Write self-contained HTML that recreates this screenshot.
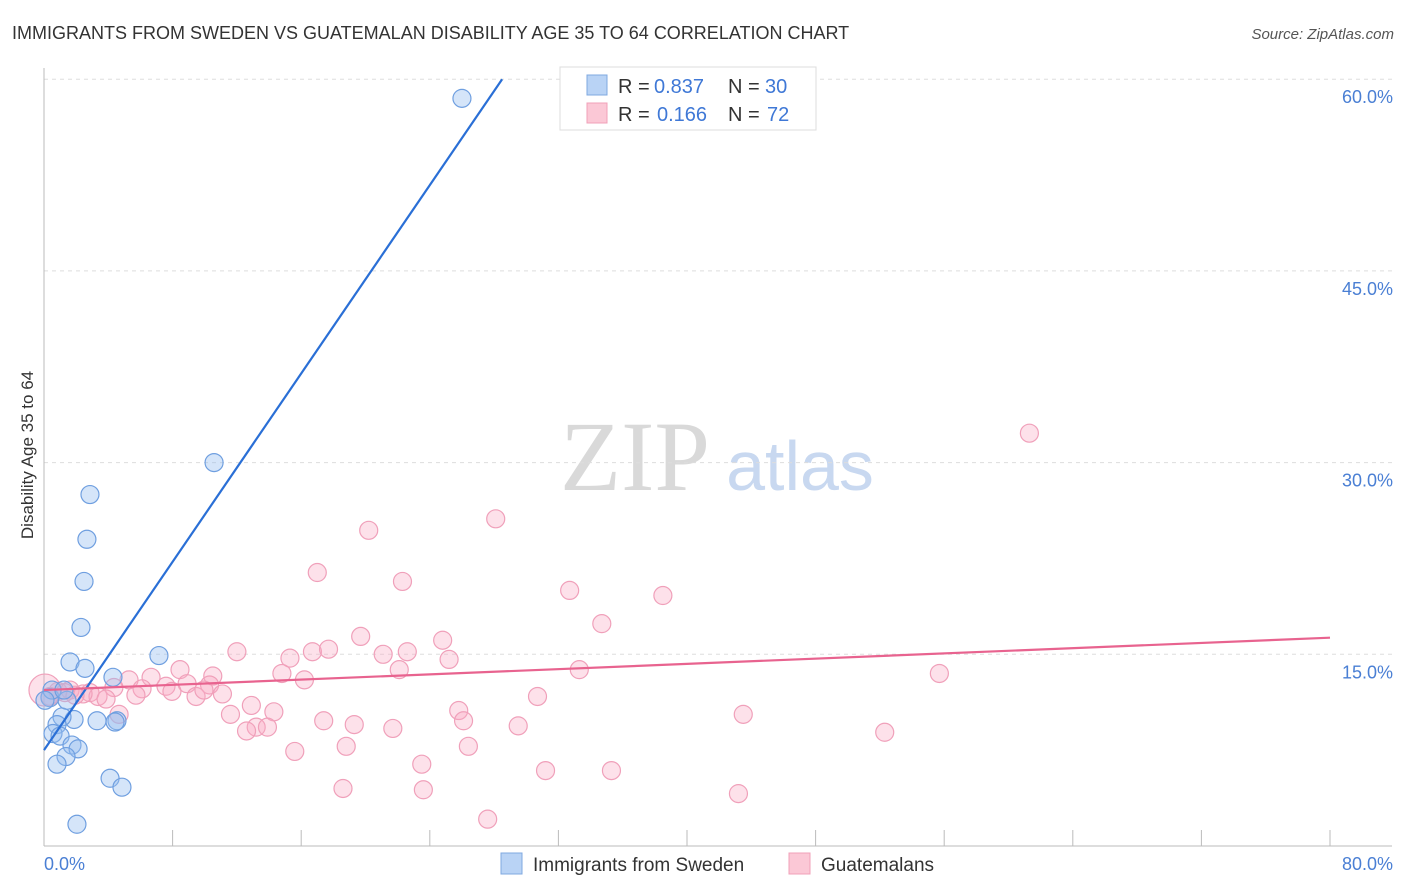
<!DOCTYPE html>
<html><head><meta charset="utf-8"><style>
body{margin:0;background:#fff;font-family:"Liberation Sans",sans-serif;}
svg{display:block}
</style></head><body>
<svg id="chart" width="1406" height="892">
<text x="12" y="39" font-size="18" fill="#333">IMMIGRANTS FROM SWEDEN VS GUATEMALAN DISABILITY AGE 35 TO 64 CORRELATION CHART</text>
<text x="1394" y="39" font-size="15" fill="#555" font-style="italic" text-anchor="end">Source: ZipAtlas.com</text>
<text transform="translate(33,455) rotate(-90)" font-size="17" fill="#333" text-anchor="middle">Disability Age 35 to 64</text>
<g>
<text x="635" y="490" font-size="100" font-family="Liberation Serif,serif" fill="#d9d9d9" text-anchor="middle">ZIP</text>
<text x="800" y="490" font-size="70" fill="#c8d8f0" text-anchor="middle">atlas</text>
</g>
<g id="grid"></g><g id="axes"></g><g id="marks"></g>
<g>
<rect x="560" y="67" width="256" height="63" fill="#fff" stroke="#ddd"/>
<rect x="587" y="75" width="20" height="20" fill="#b9d3f5" stroke="#7fa8e0"/>
<rect x="587" y="103" width="20" height="20" fill="#fbc8d6" stroke="#f0a0b8"/>
<text x="618" y="93" font-size="20" fill="#333">R =</text>
<text x="654" y="93" font-size="20" fill="#3f78d6">0.837</text>
<text x="728" y="93" font-size="20" fill="#333">N =</text>
<text x="765" y="93" font-size="20" fill="#3f78d6">30</text>
<text x="618" y="121" font-size="20" fill="#333">R =</text>
<text x="657" y="121" font-size="20" fill="#3f78d6">0.166</text>
<text x="728" y="121" font-size="20" fill="#333">N =</text>
<text x="767" y="121" font-size="20" fill="#3f78d6">72</text>
</g>
<g>
<rect x="501" y="853" width="21" height="21" fill="#b9d3f5" stroke="#7fa8e0"/>
<text x="533" y="871" font-size="19" fill="#333">Immigrants from Sweden</text>
<rect x="789" y="853" width="21" height="21" fill="#fbc8d6" stroke="#f0a0b8"/>
<text x="821" y="871" font-size="19" fill="#333">Guatemalans</text>
</g>
</svg>
<script>
const yTicks=[15,30,45,60];
const yTickLabels=["15.0%","30.0%","45.0%","60.0%"];
const xTickLabels=["0.0%","80.0%"];
const swedenX=[26.0,10.58,2.86,2.67,2.49,2.30,1.62,2.55,7.15,4.29,4.54,3.30,1.87,1.12,1.43,0.37,0.81,0.56,1.0,1.74,2.12,1.37,0.81,4.11,4.85,2.05,4.42,0.5,0.06,1.24];
const swedenY=[58.5,30.0,27.5,24.0,20.7,17.1,14.4,13.9,14.9,13.2,9.8,9.8,9.9,10.1,11.4,11.6,9.5,8.8,8.6,7.9,7.6,7.0,6.4,5.3,4.6,1.7,9.7,12.2,11.4,12.2];
const guatX=[61.3,28.1,20.2,17.0,22.3,32.7,38.5,34.7,19.7,24.8,12.0,16.7,17.7,21.1,22.6,15.3,25.2,33.3,22.1,8.46,55.7,14.8,16.2,6.66,10.5,5.29,10.3,7.59,8.9,6.1,4.35,0.87,1.62,2.86,3.36,3.86,2.43,5.72,11.1,9.46,7.96,9.95,30.7,12.9,25.8,11.6,4.67,14.3,26.1,17.4,19.3,29.5,13.2,13.9,12.6,21.7,52.3,43.5,15.6,18.8,26.4,23.5,31.2,35.3,18.6,23.6,43.2,27.6,0.06,0.37,1.3,1.93];
const guatY=[32.3,25.6,24.7,21.4,20.7,20.0,19.6,17.4,16.4,16.1,15.2,15.2,15.4,15.0,15.2,14.7,14.6,13.8,13.8,13.8,13.5,13.5,13.0,13.2,13.3,13.0,12.6,12.5,12.7,12.3,12.4,12.1,12.2,12.0,11.7,11.5,11.9,11.8,11.9,11.7,12.1,12.2,11.7,11.0,10.6,10.3,10.3,10.5,9.8,9.8,9.5,9.4,9.3,9.3,9.0,9.2,8.9,10.3,7.4,7.8,7.8,6.4,5.9,5.9,4.5,4.4,4.1,2.1,12.2,11.7,12.0,11.8];
const swedenTrend=[[0,7.5],[28.5,60]];
const guatTrend=[[0,12.2],[80,16.3]];
const NS="http://www.w3.org/2000/svg";
const X=v=>44+v*16.075, Y=v=>846-v*12.78;
function mk(t,a,p){const e=document.createElementNS(NS,t);for(const k in a)e.setAttribute(k,a[k]);p.appendChild(e);return e;}
const grid=document.getElementById('grid'),axes=document.getElementById('axes'),marks=document.getElementById('marks');
yTicks.forEach((v,i)=>{
 const l=mk('line',{x1:44,x2:1392,y1:Y(v),y2:Y(v),stroke:'#ddd','stroke-dasharray':'4,4'},grid);
 
 
 const t=mk('text',{x:1393,y:Y(v)+24,'font-size':18,fill:'#4a7fd4','text-anchor':'end'},axes);
 t.textContent=yTickLabels[i];
 
 
});
let a=mk('line',{x1:44,x2:44,y1:68,y2:846,stroke:'#bbb'},axes);


a=mk('line',{x1:44,x2:1392,y1:846,y2:846,stroke:'#bbb'},axes);


for(let i=0;i<=10;i++){
 const tk=mk('line',{x1:X(i*8),x2:X(i*8),y1:830,y2:846,stroke:'#bbb'},axes);
 
 
}
let xt=mk('text',{x:44,y:870,'font-size':18,fill:'#4a7fd4'},axes);xt.textContent=xTickLabels[0];


xt=mk('text',{x:1393,y:870,'font-size':18,fill:'#4a7fd4','text-anchor':'end'},axes);xt.textContent=xTickLabels[1];


guatX.forEach((x,i)=>{
 const r=(i===68)?16:9;
 const c=mk('circle',{cx:X(x),cy:Y(guatY[i]),r:r,fill:'rgba(248,170,195,0.35)',stroke:'#f0a0ba','stroke-width':1.2},marks);
 
 
});
swedenX.forEach((x,i)=>{
 const c=mk('circle',{cx:X(x),cy:Y(swedenY[i]),r:9,fill:'rgba(150,190,240,0.4)',stroke:'#6f9fe0','stroke-width':1.2},marks);
 
 
});
let tl=mk('line',{x1:X(swedenTrend[0][0]),y1:Y(swedenTrend[0][1]),x2:X(swedenTrend[1][0]),y2:Y(swedenTrend[1][1]),stroke:'#2a6fd6','stroke-width':2.2},marks);


tl=mk('line',{x1:X(guatTrend[0][0]),y1:Y(guatTrend[0][1]),x2:X(guatTrend[1][0]),y2:Y(guatTrend[1][1]),stroke:'#e8638f','stroke-width':2.2},marks);


</script>
</body></html>
